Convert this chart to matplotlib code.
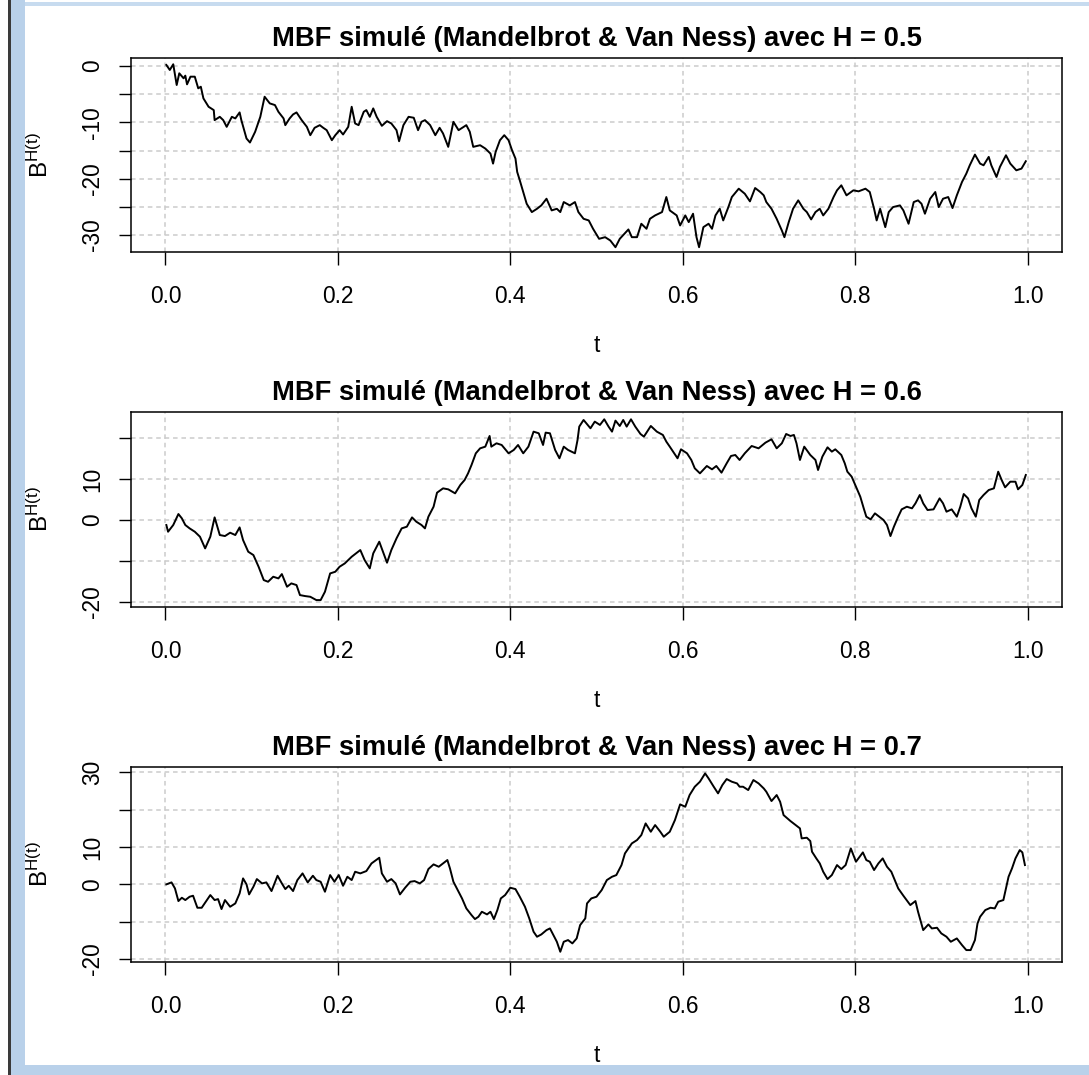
#! /usr/bin/env python
import matplotlib
matplotlib.use('Agg')
import matplotlib.pyplot as plt
from matplotlib.patches import Rectangle

matplotlib.rcParams['font.family'] = ['Liberation Sans', 'DejaVu Sans']
matplotlib.rcParams['mathtext.fontset'] = 'custom'
matplotlib.rcParams['mathtext.rm'] = 'Liberation Sans'
matplotlib.rcParams['mathtext.it'] = 'Liberation Sans:italic'
matplotlib.rcParams['axes.unicode_minus'] = False

# paths (t, B^H(t))
t_h05 = [0.001, 0.005, 0.009, 0.013, 0.016, 0.021, 0.023, 0.025, 0.029, 0.034,
         0.038, 0.041, 0.044, 0.050, 0.056, 0.057, 0.063, 0.067, 0.071, 0.077,
         0.081, 0.086, 0.088, 0.094, 0.098, 0.104, 0.110, 0.115, 0.121, 0.127,
         0.131, 0.137, 0.139, 0.144, 0.148, 0.152, 0.158, 0.164, 0.168, 0.173,
         0.179, 0.183, 0.187, 0.193, 0.197, 0.202, 0.206, 0.212, 0.216, 0.220,
         0.224, 0.230, 0.233, 0.237, 0.241, 0.245, 0.251, 0.257, 0.262, 0.268,
         0.271, 0.276, 0.282, 0.288, 0.293, 0.297, 0.301, 0.307, 0.313, 0.318,
         0.322, 0.328,
         0.334, 0.340, 0.346, 0.349, 0.353, 0.357, 0.365, 0.371, 0.377, 0.380,
         0.383, 0.388, 0.393, 0.398, 0.402, 0.406, 0.408, 0.411, 0.415, 0.419,
         0.425, 0.431, 0.436, 0.442, 0.448, 0.454, 0.458, 0.462, 0.469, 0.475,
         0.479, 0.485, 0.491, 0.496, 0.503, 0.510, 0.516, 0.522, 0.527, 0.537,
         0.541, 0.547, 0.552, 0.558, 0.562, 0.568, 0.576, 0.581, 0.585, 0.593,
         0.597, 0.603, 0.607, 0.612, 0.616, 0.619, 0.624, 0.630, 0.634, 0.638,
         0.643, 0.647, 0.653, 0.657, 0.665,
         0.672, 0.678, 0.684, 0.690, 0.694, 0.697, 0.703, 0.709, 0.715, 0.718,
         0.723, 0.728, 0.734, 0.740, 0.744, 0.749, 0.754, 0.759, 0.763, 0.769,
         0.775, 0.779, 0.784, 0.790, 0.798, 0.804, 0.812, 0.817, 0.822, 0.825,
         0.829, 0.835, 0.839, 0.844, 0.852, 0.856, 0.862, 0.868, 0.873, 0.877,
         0.881, 0.887, 0.893, 0.897, 0.902, 0.908, 0.913, 0.918, 0.924, 0.929,
         0.933, 0.939, 0.945, 0.949, 0.955, 0.958, 0.964, 0.968, 0.975, 0.980,
         0.987, 0.993, 0.998]
b_h05 = [0.18, -0.71, 0.30, -3.38, -1.30, -2.19, -1.72, -3.26, -1.90, -1.90,
         -3.97, -3.68, -5.75, -7.24, -7.83, -9.61, -9.02, -9.61, -10.80, -9.02,
         -9.31, -8.24, -9.61, -12.87, -13.58, -11.68, -9.02, -5.46, -6.64, -6.94,
         -8.13, -9.31, -10.50, -9.31, -8.60, -8.24, -9.61, -10.80, -12.28, -10.97,
         -10.50, -10.97, -11.39, -13.17, -12.28, -11.39, -12.16, -10.80, -7.24, -10.20,
         -10.50, -8.13, -7.83, -9.02, -7.53, -9.02, -10.62, -9.79, -10.20, -11.39,
         -13.35, -10.50, -9.02, -9.19, -11.39, -9.91, -9.61, -10.50, -12.28, -10.97,
         -11.98, -14.35,
         -9.91, -11.39, -10.80, -10.50, -11.68, -14.35, -14.06, -14.65, -15.54, -17.32,
         -15.24, -13.17, -12.28, -13.17, -14.95, -16.43, -18.80, -20.28, -22.36, -24.44,
         -25.92, -25.33, -24.73, -23.55, -25.62, -25.33, -25.92, -24.14, -24.73, -24.14,
         -25.92, -27.11, -27.40, -28.88, -30.66, -30.37, -30.96, -32.15, -30.66, -29.00,
         -30.37, -30.37, -27.99, -28.88, -27.11, -26.51, -25.92, -23.25, -25.62, -26.51,
         -28.29, -26.51, -27.70, -26.21, -30.37, -32.15, -28.59, -27.99, -28.88, -26.51,
         -25.33, -27.40, -25.03, -23.25, -21.77,
         -22.66, -24.02, -21.65, -22.36, -22.95, -24.14, -25.33, -27.11, -29.18, -30.37,
         -27.70, -25.33, -23.84, -25.33, -25.92, -27.22, -25.92, -25.33, -26.51, -25.33,
         -23.25, -22.06, -21.17, -22.95, -22.06, -22.24, -21.77, -22.36, -25.33, -27.40,
         -25.33, -28.59, -25.92, -25.03, -24.73, -25.62, -27.99, -24.14, -23.84, -24.44,
         -26.21, -23.55, -22.36, -25.03, -23.55, -23.25, -25.21, -22.95, -20.58, -19.10,
         -17.62, -15.72, -17.32, -17.62, -16.13, -17.62, -19.69, -17.91, -15.84, -17.32,
         -18.51, -18.21, -16.90]

t_h06 = [0.001, 0.003, 0.009, 0.015, 0.019, 0.023, 0.028, 0.034, 0.040, 0.046,
         0.052, 0.057, 0.063, 0.069, 0.075, 0.081, 0.086, 0.090, 0.096, 0.102,
         0.108, 0.114, 0.119, 0.125, 0.131, 0.135, 0.141, 0.146, 0.152, 0.156,
         0.162, 0.168, 0.175, 0.180, 0.185, 0.191, 0.197, 0.202, 0.208, 0.216,
         0.226, 0.231, 0.237, 0.241, 0.248, 0.253, 0.257, 0.262, 0.268, 0.274,
         0.280, 0.286, 0.291, 0.297, 0.301, 0.305, 0.311, 0.315, 0.322, 0.328,
         0.336, 0.342, 0.347, 0.351, 0.355, 0.360, 0.365, 0.371, 0.376, 0.378,
         0.384, 0.390, 0.398, 0.404, 0.409, 0.415, 0.421, 0.427, 0.433, 0.438,
         0.441, 0.446, 0.452, 0.457, 0.462, 0.467, 0.475, 0.478, 0.480, 0.485,
         0.493, 0.498, 0.504, 0.509, 0.514, 0.518, 0.522, 0.527, 0.531, 0.535,
         0.540, 0.545, 0.551, 0.555, 0.563, 0.570, 0.577, 0.581, 0.585, 0.594,
         0.598, 0.605, 0.610, 0.614, 0.620, 0.628, 0.634, 0.639, 0.645, 0.651,
         0.656, 0.661, 0.666,
         0.672, 0.680, 0.688, 0.696, 0.703, 0.709, 0.715, 0.720, 0.725, 0.729,
         0.732, 0.736, 0.741, 0.748, 0.754, 0.757, 0.762, 0.768, 0.773, 0.777,
         0.784, 0.788, 0.791, 0.796, 0.801, 0.806, 0.810, 0.813, 0.818, 0.823,
         0.828, 0.833, 0.837, 0.841, 0.845, 0.850, 0.854, 0.860, 0.866, 0.870,
         0.875, 0.879, 0.884, 0.891, 0.898, 0.902, 0.906, 0.912, 0.918, 0.922,
         0.926, 0.931, 0.935, 0.940, 0.944, 0.949, 0.955, 0.961, 0.966, 0.970,
         0.974, 0.980, 0.986, 0.989, 0.994, 0.998]
b_h06 = [-1.22, -2.86, -1.22, 1.47, 0.41, -1.22, -2.04, -2.86, -4.08, -6.94,
         -4.08, 0.65, -3.67, -3.92, -3.10, -3.67, -1.80, -4.90, -7.75, -8.57,
         -11.42, -14.69, -15.10, -13.87, -14.28, -13.22, -16.32, -15.50, -15.91, -18.36,
         -18.60, -18.77, -19.58, -19.58, -17.54, -13.06, -12.65, -11.42, -10.61, -8.98,
         -7.34, -9.79, -11.83, -8.16, -5.30, -8.16, -10.44, -7.34, -4.49, -2.04,
         -1.63, 0.65, -0.41, -1.22, -2.04, 0.82, 3.26, 6.69, 7.75, 7.51,
         6.53, 8.57, 9.79, 11.42, 13.46, 16.32, 17.54, 17.95, 20.56, 17.95,
         18.77, 18.36, 16.32, 17.14, 18.36, 16.32, 17.95, 21.62, 21.22, 18.36,
         21.38, 21.22, 17.14, 15.10, 17.95, 17.14, 16.32, 19.58, 22.85, 24.48,
         22.44, 24.07, 23.26, 24.64, 22.85, 21.62, 24.32, 23.01, 24.48, 22.85,
         24.64, 22.85, 21.05, 20.40, 23.01, 21.62, 20.81, 19.18, 17.95, 15.10,
         17.30, 16.32, 14.69, 12.65, 11.42, 13.22, 12.40, 13.22, 11.59, 13.87,
         15.67, 15.91, 14.69,
         16.32, 18.11, 17.54, 18.93, 19.75, 17.54, 18.77, 21.05, 20.56, 20.81,
         18.77, 14.69, 17.95, 15.91, 14.69, 12.24, 15.50, 17.79, 16.73, 17.30,
         15.91, 13.87, 11.83, 10.61, 8.16, 5.71, 2.86, 0.82, 0.16, 1.63,
         0.82, 0.00, -1.22, -3.92, -1.63, 0.82, 2.61, 3.26, 2.86, 4.08,
         6.12, 4.08, 2.45, 2.61, 5.30, 4.08, 2.04, 2.61, 0.82, 3.26,
         6.36, 5.30, 2.86, 0.82, 4.90, 6.12, 7.34, 7.75, 11.83, 9.79,
         8.00, 9.38, 9.38, 7.51, 8.57, 11.02]

t_h07 = [0.001, 0.007, 0.011, 0.015, 0.019, 0.023, 0.028, 0.032, 0.037, 0.042,
         0.048, 0.052, 0.057, 0.061, 0.065, 0.069, 0.075, 0.081, 0.086, 0.090,
         0.094, 0.097, 0.102, 0.106, 0.112, 0.117, 0.123, 0.130, 0.135, 0.139,
         0.143, 0.148, 0.153, 0.159, 0.165, 0.171, 0.175, 0.180, 0.185, 0.191,
         0.196, 0.201, 0.206, 0.211, 0.216, 0.220, 0.226, 0.233, 0.239, 0.248,
         0.251, 0.257, 0.262, 0.267, 0.272, 0.278, 0.284, 0.289, 0.295, 0.300,
         0.305, 0.311, 0.317, 0.327,
         0.330, 0.334, 0.338, 0.344, 0.349, 0.355, 0.359, 0.363, 0.367, 0.373,
         0.377, 0.381, 0.385, 0.389, 0.394, 0.400, 0.406, 0.411, 0.417, 0.422,
         0.427, 0.431, 0.436, 0.442, 0.446, 0.450, 0.454, 0.458, 0.462, 0.467,
         0.472, 0.477, 0.481, 0.487, 0.489, 0.494, 0.500, 0.506, 0.512, 0.518,
         0.523, 0.529, 0.533, 0.541, 0.547, 0.552, 0.557, 0.563, 0.568, 0.574,
         0.578, 0.585, 0.591, 0.597, 0.603, 0.608, 0.614, 0.620, 0.626, 0.630,
         0.636, 0.641, 0.646, 0.651, 0.657, 0.663, 0.666,
         0.670, 0.676, 0.682, 0.688, 0.694, 0.697, 0.703, 0.709, 0.713, 0.717,
         0.725, 0.730, 0.736, 0.738, 0.744, 0.748, 0.750, 0.755, 0.759, 0.763,
         0.768, 0.773, 0.779, 0.784, 0.789, 0.795, 0.801, 0.809, 0.813, 0.817,
         0.822, 0.827, 0.832, 0.837, 0.842, 0.846, 0.850, 0.856, 0.864, 0.870,
         0.873, 0.879, 0.885, 0.889, 0.895, 0.900, 0.906, 0.911, 0.918, 0.924,
         0.929, 0.934, 0.939, 0.942, 0.945, 0.951, 0.957, 0.962, 0.966, 0.972,
         0.975, 0.978, 0.982, 0.986, 0.991, 0.994, 0.997]
b_h07 = [0.00, 0.53, -1.08, -4.47, -3.58, -4.20, -3.31, -3.04, -6.26, -6.26,
         -4.20, -2.86, -4.20, -3.94, -6.61, -4.20, -5.99, -5.10, -2.42, 1.60,
         0.00, -2.69, -0.63, 1.42, 0.26, 0.53, -1.79, 2.31, 0.26, -1.26,
         -0.37, -1.79, 1.15, 2.94, 0.53, 2.31, 1.15, 0.70, -1.97, 2.49,
         0.70, 2.49, -0.37, 2.04, 1.15, 3.38, 2.94, 3.56, 5.61, 7.13,
         2.94, 0.70, 1.42, 0.26, -2.69, -0.90, 0.70, 0.88, 0.26, 1.15,
         4.10, 5.35, 4.72, 6.51,
         4.28, 0.70, -1.08, -3.76, -6.43, -8.22, -9.29, -8.67, -7.33, -8.04,
         -7.33, -9.29, -6.88, -3.76, -2.86, -0.90, -1.26, -3.31, -5.99, -9.11,
         -12.68, -14.02, -13.40, -12.24, -11.79, -13.57, -15.36, -18.04, -15.36, -14.91,
         -15.80, -14.47, -10.90, -9.11, -5.10, -3.76, -3.31, -1.53, 1.15, 2.04,
         2.49, 5.17, 8.29, 10.97, 11.86, 13.20, 16.32, 14.09, 15.88, 14.09,
         12.75, 14.09, 17.22, 21.41, 20.78, 23.91, 26.14, 27.48, 29.71, 28.37,
         26.14, 24.36, 26.59, 28.19, 27.48, 27.03, 26.14,
         26.14, 25.25, 27.93, 27.03, 25.69, 24.80, 22.30, 23.91, 22.12, 18.55,
         16.95, 16.06, 14.99, 12.31, 12.49, 11.59, 8.74, 6.95, 5.61, 3.38,
         1.42, 2.49, 5.17, 4.10, 5.17, 9.63, 6.06, 8.56, 6.51, 6.06,
         3.83, 5.61, 6.95, 4.72, 3.38, 1.15, -1.08, -3.04, -5.54, -4.47,
         -7.33, -12.24, -10.72, -11.79, -11.61, -13.13, -14.02, -15.36, -14.47, -16.25,
         -17.59, -17.59, -14.91, -10.45, -8.67, -6.88, -6.26, -6.43, -4.65, -4.20,
         -1.08, 2.04, 4.28, 6.95, 9.18, 8.56, 5.17]

hurst = [0.5, 0.6, 0.7]
x_ticks = [0.0, 0.2, 0.4, 0.6, 0.8, 1.0]
y_ticks = [[0, -5, -10, -15, -20, -25, -30],
           [-20, -10, 0, 10, 20],
           [-20, -10, 0, 10, 20, 30]]
y_shown = [[0, -10, -20, -30], [-20, 0, 10], [-20, 0, 10, 30]]
y_limits = [(-33.0, 1.5), (-21.2, 26.5), (-20.7, 31.5)]

W, H = 1089, 1075
# plot boxes in screenshot pixels: left, top, right, bottom
boxes = [(131, 57.5, 1062, 252), (131, 411.7, 1062, 606.7), (131, 766.7, 1062, 961.7)]


def add_rect(fig, x, y, w, h, color):
    fig.patches.append(Rectangle((x / W, 1 - (y + h) / H), w / W, h / H,
                                 transform=fig.transFigure, color=color,
                                 zorder=-1, lw=0))


def fbm_panel(fig, box, t, b, h, yt, yshown, ylim):
    l, top, r, bot = box
    ax = fig.add_axes([l / W, 1 - bot / H, (r - l) / W, (bot - top) / H])
    wpx, hpx = r - l, bot - top
    ax.plot(t, b, color='black', lw=1.4)
    ax.set_xlim(-0.04, 1.04)
    ax.set_ylim(*ylim)
    ax.set_xticks(x_ticks)
    ax.set_xticklabels([f'{v:.1f}' for v in x_ticks])
    ax.set_yticks(yt)
    ax.set_yticklabels([str(v) if v in yshown else '' for v in yt])
    ax.grid(True, color='#cccccc', lw=1.1, linestyle=(0, (3, 2.5)))
    ax.set_axisbelow(True)
    ax.tick_params(length=9, width=1, direction='out', labelsize=16.4)
    ax.tick_params(axis='x', pad=15)
    ax.tick_params(axis='y', pad=10.5, labelrotation=90)
    plt.setp(ax.get_yticklabels(), va='center')
    for s in ax.spines.values():
        s.set_linewidth(1.1)

    ax.text(0.5, 1 + 18.5 / hpx, f'MBF simulé (Mandelbrot & Van Ness) avec H = {h}',
            transform=ax.transAxes, ha='center', va='center',
            fontsize=19.7, fontweight='bold')
    ax.text(0.5, -94 / hpx, 't', transform=ax.transAxes,
            ha='center', va='center', fontsize=16.4)
    ax.text(-91 / wpx, 0.5, r'$\mathrm{B}^{\mathrm{H(t)}}$', transform=ax.transAxes,
            rotation=90, ha='center', va='center', fontsize=17.5)
    return ax


if __name__ == '__main__':
    fig = plt.figure(figsize=(W / 100, H / 100), dpi=100)
    # screenshot window frame
    add_rect(fig, 8, 0, 3, H, '#3a3a3a')
    add_rect(fig, 11, 0, 14, H, '#b9d1ea')
    add_rect(fig, 25, 2, W - 25, 4, '#c7dbef')
    add_rect(fig, 11, 1065, W - 11, 10, '#b9d1ea')

    paths = [(t_h05, b_h05), (t_h06, b_h06), (t_h07, b_h07)]
    for i, (t, b) in enumerate(paths):
        fbm_panel(fig, boxes[i], t, b, hurst[i], y_ticks[i], y_shown[i], y_limits[i])

    fig.savefig('out.png', dpi=100)
